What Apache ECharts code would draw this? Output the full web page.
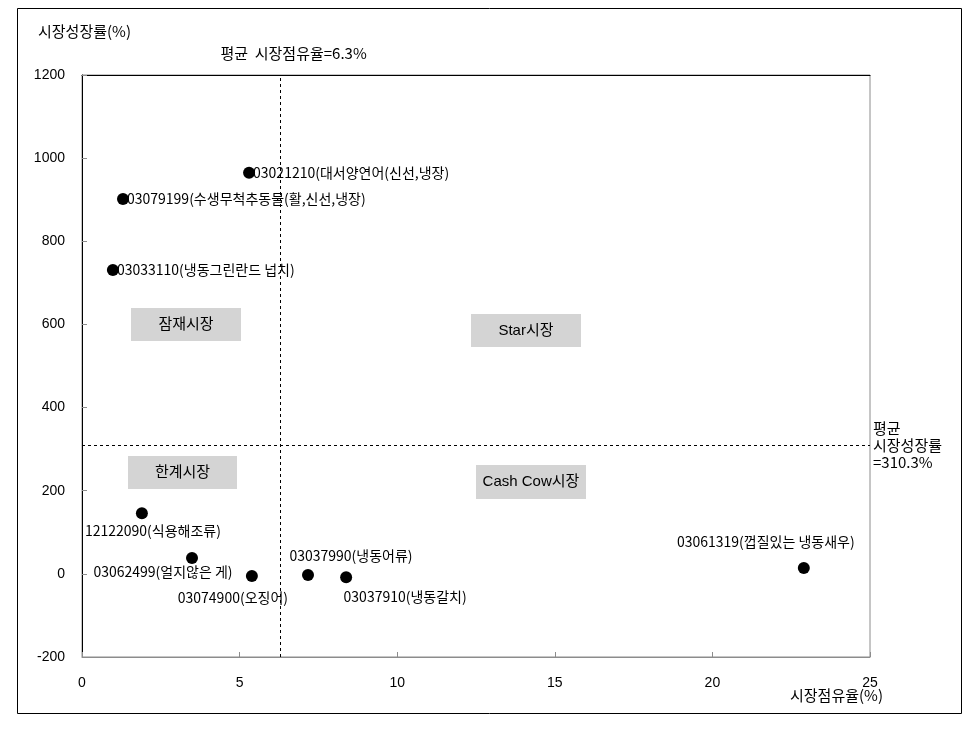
<!DOCTYPE html>
<html><head><meta charset="utf-8">
<script src="https://cdn.jsdelivr.net/npm/echarts@6/dist/echarts.min.js"></script>
<style>html,body{margin:0;padding:0;background:#fff}#c{width:976px;height:729px}</style>
</head><body><div id="c"></div>
<script>
// ---- data ----
const itemLabels = [
  '03021210(대서양연어(신선,냉장)',
  '03079199(수생무척추동물(활,신선,냉장)',
  '03033110(냉동그린란드 넙치)',
  '12122090(식용해조류)',
  '03062499(얼지않은 게)',
  '03074900(오징어)',
  '03037990(냉동어류)',
  '03037910(냉동갈치)',
  '03061319(껍질있는 냉동새우)'
];
const marketShare = [5.30, 1.30, 0.98, 1.90, 3.49, 5.39, 7.17, 8.38, 22.9];   // x, %
const marketGrowth = [965, 902, 731, 146, 38, -5, -3, -8, 14];              // y, %
const avgShare = 6.3;
const avgGrowth = 310.3;
const xTicks = [0, 5, 10, 15, 20, 25];
const yTicks = [-200, 0, 200, 400, 600, 800, 1000, 1200];
const quadrantNames = ['잠재시장', 'Star시장', '한계시장', 'Cash Cow시장'];

// ---- label placement (style only) ----
const labelPlace = [
  {position:'right', distance:-2},
  {position:'right', distance:-2},
  {position:'right', distance:-2},
  {position:'inside', offset:[11, 18]},
  {position:'inside', offset:[-29, 14]},
  {position:'inside', offset:[-19, 22]},
  {position:'inside', offset:[43, -19]},
  {position:'inside', offset:[59, 20]},
  {position:'inside', offset:[-38, -26]}
];

const KR = '"Noto Sans CJK KR", "Liberation Sans", sans-serif';
const LAT = '"Liberation Sans", "Noto Sans CJK KR", sans-serif';
const chart = echarts.init(document.getElementById('c'), null, {renderer:'canvas'});

const points = marketShare.map((x, i) => ({
  value: [x, marketGrowth[i]],
  label: Object.assign({show:true, formatter: itemLabels[i]}, labelPlace[i])
}));

const quadBoxes = [
  {x:131, y:308, w:110, h:33},
  {x:471, y:314, w:110, h:33},
  {x:128, y:456, w:109, h:33},
  {x:476, y:465, w:110, h:34}
];

chart.setOption({
  animation: false,
  backgroundColor: '#fff',
  grid: {left:82, right:106, top:75, bottom:72, show:true, borderColor:'#8c8c8c', borderWidth:1},
  xAxis: [{
    type:'value', min:xTicks[0], max:xTicks[xTicks.length-1], interval:5,
    axisLine:{show:true, onZero:false, lineStyle:{color:'#8c8c8c', width:1}},
    axisTick:{show:true, inside:true, length:5, lineStyle:{color:'#8c8c8c'}},
    splitLine:{show:false},
    axisLabel:{color:'#000', fontSize:14, fontFamily:'"Liberation Sans", Arial, sans-serif', margin:19}
  },{
    type:'value', position:'top', min:xTicks[0], max:xTicks[xTicks.length-1],
    axisLine:{show:true, onZero:false, lineStyle:{color:'#000', width:1}},
    axisTick:{show:false}, axisLabel:{show:false}, splitLine:{show:false}
  }],
  yAxis: {
    type:'value', min:yTicks[0], max:yTicks[yTicks.length-1], interval:200,
    axisLine:{show:true, onZero:false, lineStyle:{color:'#000', width:1}},
    axisTick:{show:true, inside:true, length:5, lineStyle:{color:'#8c8c8c'}},
    splitLine:{show:false},
    axisLabel:{color:'#000', fontSize:14, fontFamily:'"Liberation Sans", Arial, sans-serif', margin:17,
      formatter: v => String(v)}
  },
  series: [{
    type:'scatter',
    symbol:'circle', symbolSize:12,
    itemStyle:{color:'#000', opacity:1},
    label:{color:'#000', fontSize:14, fontFamily:KR},
    data: points,
    markLine: {
      silent:true, symbol:'none',
      lineStyle:{color:'#000', type:[3,3], width:1},
      data: [
        {xAxis: avgShare, label:{show:true, position:'end', distance:14, formatter:'평균  시장점유율=' + avgShare + '%', color:'#000', fontSize:15, fontFamily:KR, offset:[13,0]}},
        {yAxis: avgGrowth, label:{show:true, position:'end', distance:3, formatter:'평균\n시장성장률\n=' + avgGrowth + '%', color:'#000', fontSize:15, lineHeight:17, fontFamily:KR, align:'left'}}
      ]
    }
  }],
  graphic: [
    {type:'rect', shape:{x:17.5, y:8.5, width:944, height:705}, style:{fill:'none', stroke:'#000', lineWidth:1}, z:-1, silent:true},
    {type:'text', left:38, top:24, style:{text:'시장성장률(%)', fill:'#000', font:'15px ' + KR}},
    {type:'text', left:790, top:688, style:{text:'시장점유율(%)', fill:'#000', font:'15px ' + KR}}
  ].concat(quadBoxes.map((b, i) => ({
    type:'group', children:[
      {type:'rect', shape:{x:b.x, y:b.y, width:b.w, height:b.h}, style:{fill:'#d4d4d4'}},
      {type:'text', x:b.x + b.w/2, y:b.y + b.h/2, style:{text:quadrantNames[i], fill:'#000', font:'15px ' + LAT, align:'center', verticalAlign:'middle'}}
    ]
  })))
});
</script></body></html>
